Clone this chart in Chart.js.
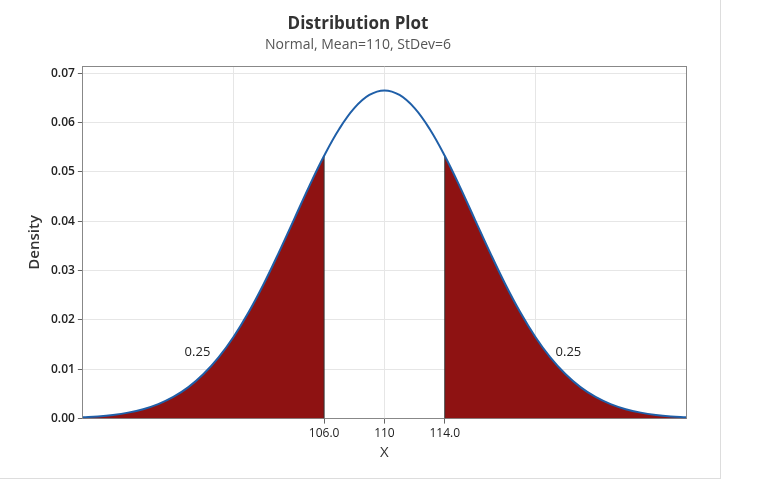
<!DOCTYPE html>
<html>
<head>
<meta charset="utf-8">
<script src="https://cdn.jsdelivr.net/npm/chart.js@4/dist/chart.umd.min.js"></script>
<style>
  body { margin: 0; background: #fff; }
  #wrap { position: relative; width: 720px; height: 478px; border-right: 1px solid #ddd; border-bottom: 1px solid #ddd; }
</style>
</head>
<body>
<div id="wrap"><canvas id="chart"></canvas></div>
<script>
// Curve values (Normal, mean 110, sd 6)
const xValues = [90, 91, 92, 93, 94, 95, 96, 97, 98, 99, 100, 101, 102, 103, 104, 105, 106, 107, 108, 109, 110,
                 111, 112, 113, 114, 115, 116, 117, 118, 119, 120, 121, 122, 123, 124, 125, 126, 127, 128, 129, 130];
const density = [0.00026, 0.00044, 0.00074, 0.00121, 0.00191, 0.00294, 0.00439, 0.00638, 0.00902, 0.01240, 0.01659,
                 0.02159, 0.02733, 0.03367, 0.04033, 0.04700, 0.05325, 0.05868, 0.06290, 0.06557, 0.06649,
                 0.06557, 0.06290, 0.05868, 0.05325, 0.04700, 0.04033, 0.03367, 0.02733, 0.02159, 0.01659,
                 0.01240, 0.00902, 0.00638, 0.00439, 0.00294, 0.00191, 0.00121, 0.00074, 0.00044, 0.00026];
const lowerCut = 106;
const upperCut = 114;
const tailLabel = '0.25';
const xTickLabels = [106, 110, 114];
const xGridValues = [90, 100, 110, 120, 130];
const yTicks = [0, 0.01, 0.02, 0.03, 0.04, 0.05, 0.06, 0.07];

const curve = xValues.map((x, i) => ({ x, y: density[i] }));
const leftTail = curve.filter(p => p.x <= lowerCut);
const rightTail = curve.filter(p => p.x >= upperCut);
const yAt = x => density[xValues.indexOf(x)];

const tailText = {
  id: 'tailText',
  afterDatasetsDraw(chart) {
    const { ctx, scales } = chart;
    ctx.save();
    ctx.fillStyle = '#222';
    ctx.font = '13px "Open Sans"';
    ctx.textAlign = 'center';
    ctx.textBaseline = 'middle';
    ctx.fillText(tailLabel, scales.x.getPixelForValue(97.6), scales.y.getPixelForValue(0.0134));
    ctx.fillText(tailLabel, scales.x.getPixelForValue(122.2), scales.y.getPixelForValue(0.0134));
    ctx.restore();
  }
};

new Chart(document.getElementById('chart'), {
  type: 'line',
  data: {
    datasets: [
      { data: curve, borderColor: '#1f5fa8', borderWidth: 2, pointRadius: 0, tension: 0.4, fill: false, order: 0 },
      { data: [{ x: lowerCut, y: 0 }, { x: lowerCut, y: yAt(lowerCut) }], borderColor: '#333', borderWidth: 1, pointRadius: 0, order: 1 },
      { data: [{ x: upperCut, y: 0 }, { x: upperCut, y: yAt(upperCut) }], borderColor: '#333', borderWidth: 1, pointRadius: 0, order: 1 },
      { data: leftTail, borderColor: '#8e1212', borderWidth: 0, backgroundColor: '#8e1212', pointRadius: 0, tension: 0.4, fill: 'origin', order: 2 },
      { data: rightTail, borderColor: '#8e1212', borderWidth: 0, backgroundColor: '#8e1212', pointRadius: 0, tension: 0.4, fill: 'origin', order: 2 }
    ]
  },
  options: {
    responsive: true,
    maintainAspectRatio: false,
    animation: false,
    layout: { padding: { left: 22, right: 26, top: 6, bottom: 12 } },
    plugins: {
      legend: { display: false },
      tooltip: { enabled: false },
      title: { display: true, text: 'Distribution Plot', color: '#333', font: { family: 'Open Sans', size: 17, weight: 'bold' }, padding: { top: 8, bottom: 2 } },
      subtitle: { display: true, text: 'Normal, Mean=110, StDev=6', color: '#555', font: { family: 'Open Sans', size: 14 }, padding: { bottom: 5 } }
    },
    scales: {
      x: {
        type: 'linear', min: 90, max: 130,
        afterBuildTicks: axis => { axis.ticks = [90, 100, 106, 110, 114, 120, 130].map(v => ({ value: v })); },
        ticks: {
          autoSkip: false, maxRotation: 0, color: '#222', font: { family: 'Open Sans', size: 12 },
          callback: v => v === 110 ? '110' : (xTickLabels.includes(v) ? v.toFixed(1) : '')
        },
        grid: {
          color: ctx => xGridValues.includes(ctx.tick && ctx.tick.value) ? '#e6e6e6' : 'rgba(0,0,0,0)',
          drawTicks: true, tickLength: 5, tickColor: ctx => xTickLabels.includes(ctx.tick && ctx.tick.value) ? '#666' : 'rgba(0,0,0,0)'
        },
        border: { color: '#888' },
        title: { display: true, text: 'X', color: '#333', font: { family: 'Open Sans', size: 15 }, padding: { top: 0 } }
      },
      x2: { position: 'top', type: 'linear', min: 90, max: 130, ticks: { display: false }, grid: { display: false }, border: { color: '#888' } },
      y: {
        min: 0, max: 0.0714,
        afterBuildTicks: axis => { axis.ticks = yTicks.map(v => ({ value: v })); },
        ticks: { color: '#222', font: { family: 'Open Sans', size: 12, weight: '600' }, callback: v => v.toFixed(2) },
        grid: { color: '#e6e6e6', tickLength: 5, tickColor: '#666' },
        border: { color: '#888' },
        title: { display: true, text: 'Density', color: '#333', font: { family: 'Open Sans', size: 15, weight: '600' } }
      },
      y2: { position: 'right', min: 0, max: 0.0714, ticks: { display: false }, grid: { display: false }, border: { color: '#888' } }
    }
  },
  plugins: [tailText]
});
</script>
</body>
</html>
